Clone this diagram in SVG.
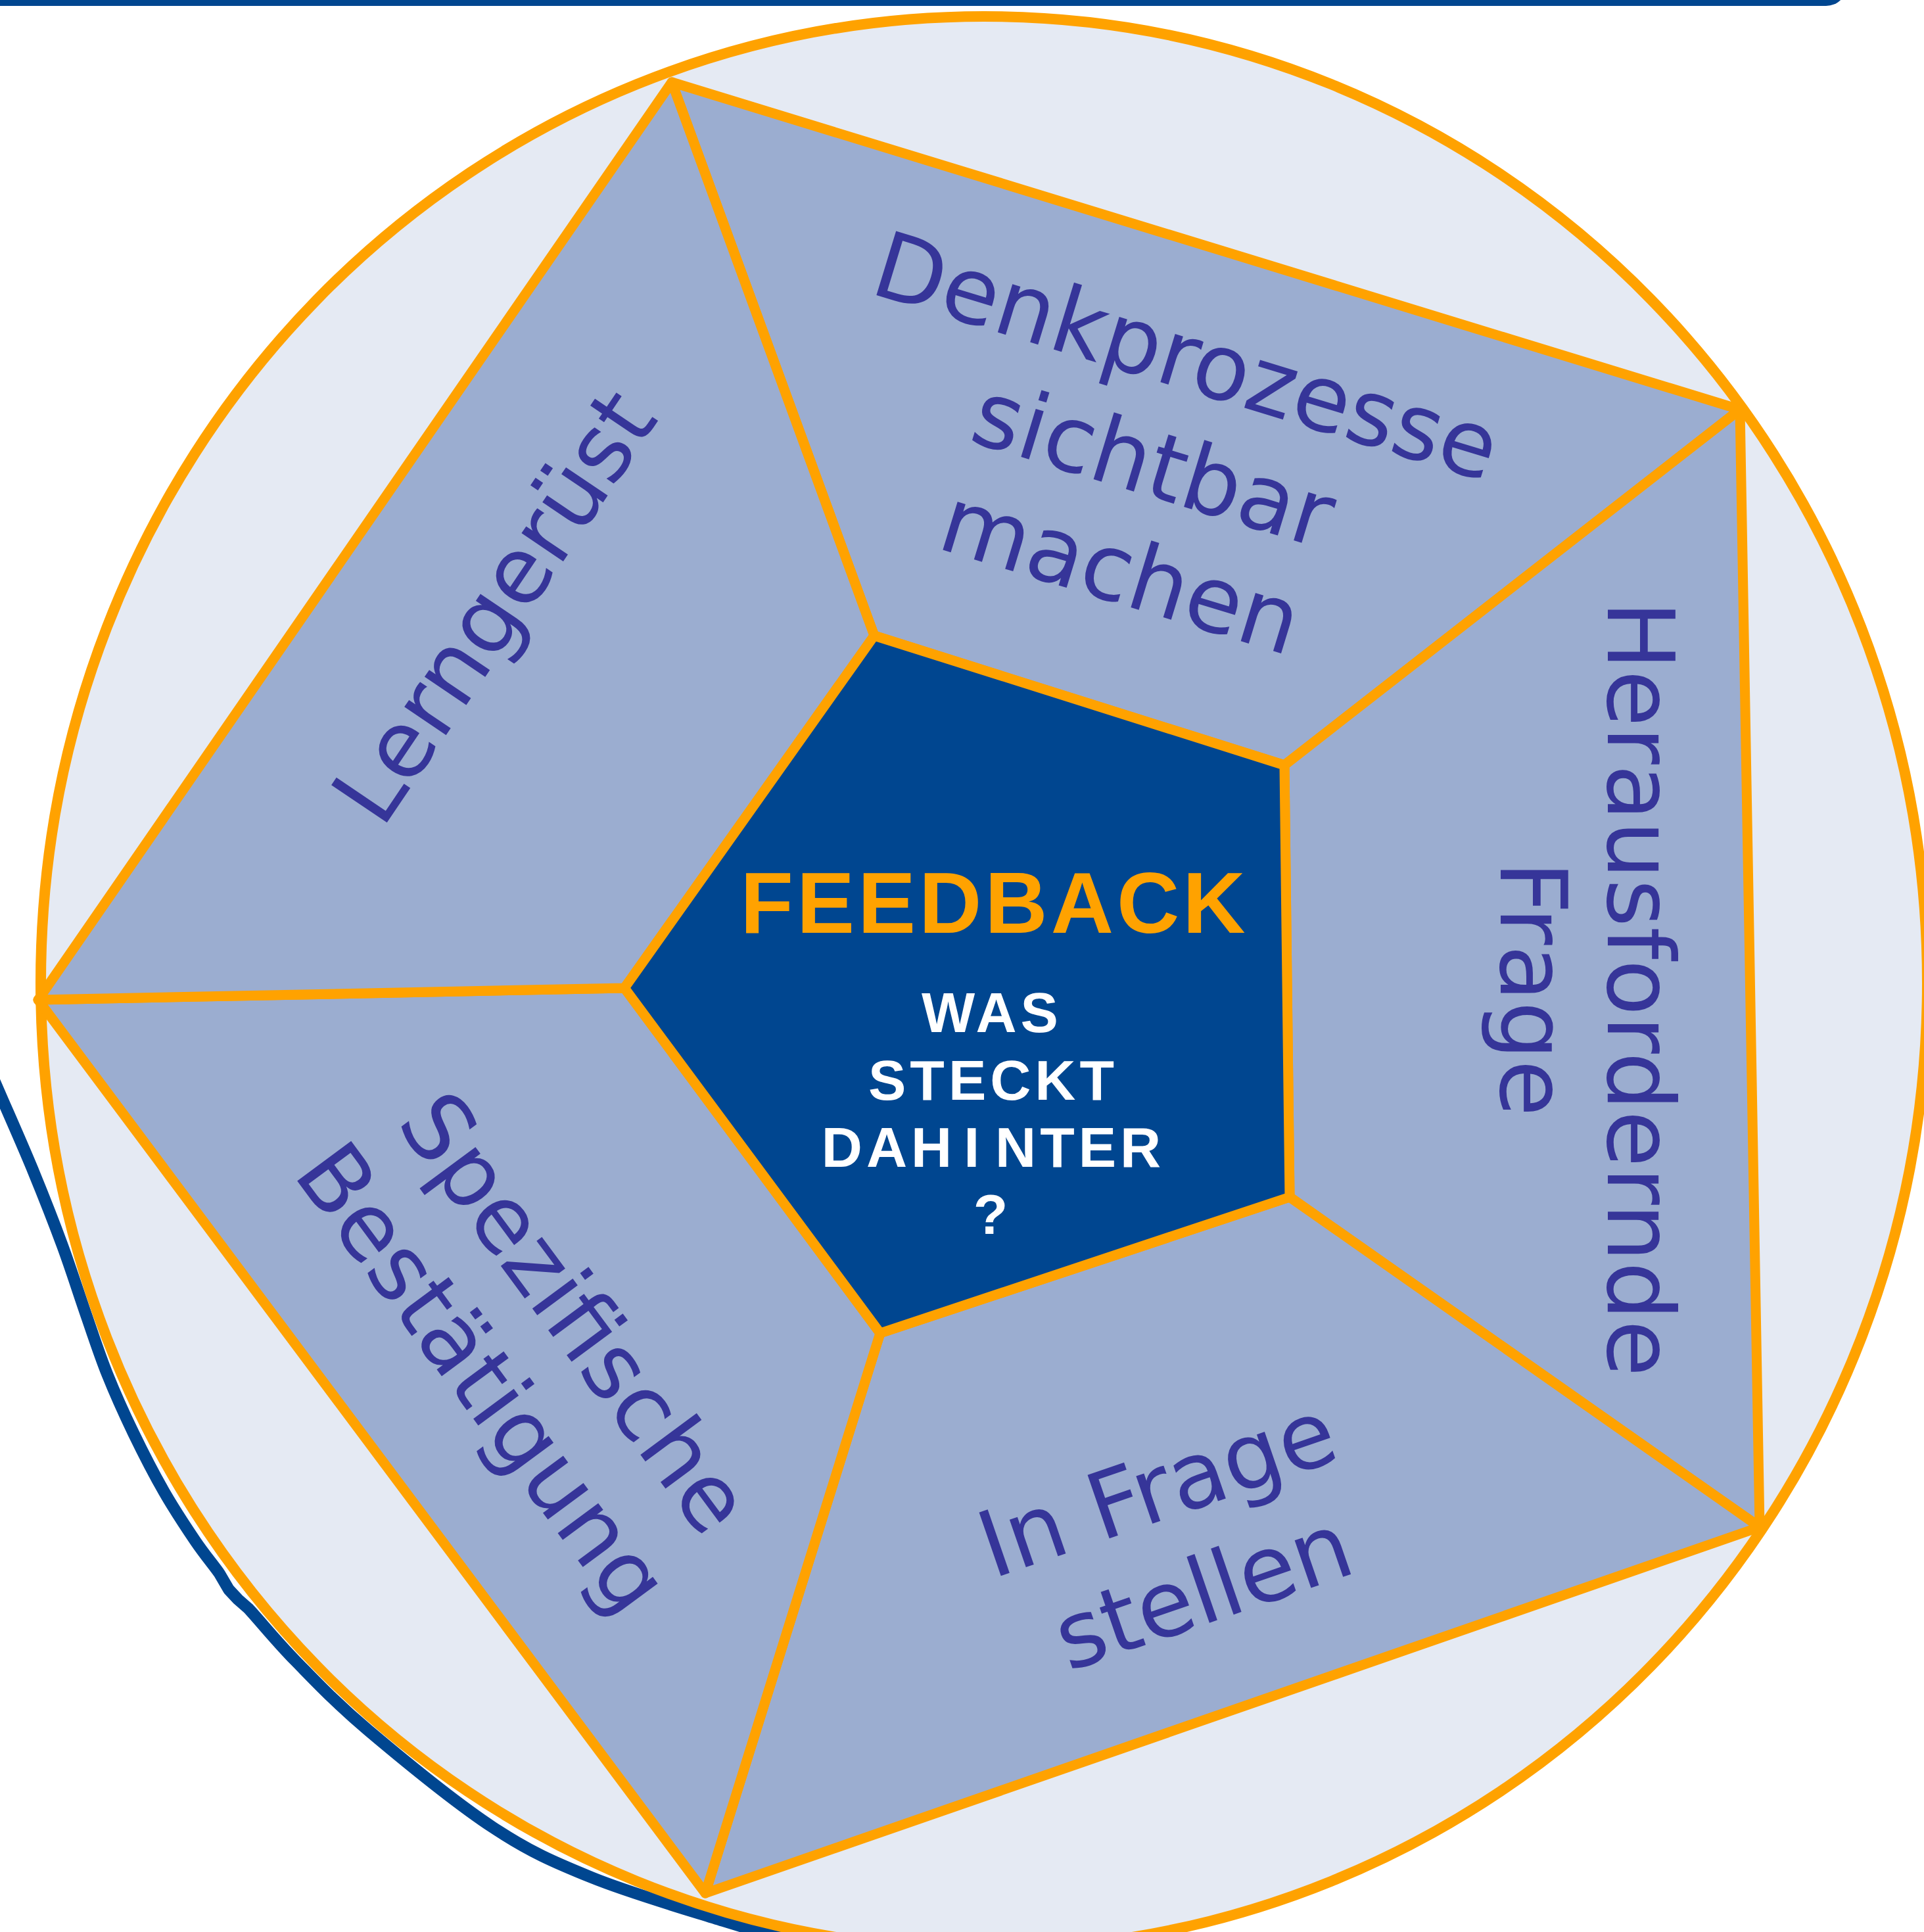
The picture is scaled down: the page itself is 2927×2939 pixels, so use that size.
<svg xmlns="http://www.w3.org/2000/svg" width="2927" height="2939" viewBox="0 0 2927 2939">
<style>
.seg{fill:#9BADD0;stroke:#FFA200;stroke-width:15;stroke-linejoin:round}
.core{fill:#004690;stroke:#FFA200;stroke-width:15;stroke-linejoin:round}
.lbl{font-family:"DejaVu Sans",Verdana,sans-serif;font-size:140px;fill:#363599;text-anchor:middle}
.title{font-family:"Liberation Sans",Arial,sans-serif;font-weight:bold;font-size:132px;fill:#FFA200;text-anchor:middle;letter-spacing:5px}
.sub{font-family:"Liberation Sans",Arial,sans-serif;font-weight:bold;font-size:86px;fill:#FFFFFF;text-anchor:middle;letter-spacing:6px}
</style>
<rect width="2927" height="2939" fill="#FFFFFF"/>
<g id="frame">
<rect x="-40" y="-60" width="2850" height="69" rx="32" fill="#004690"/>
<path d="M -10,1641 L 0,1664 C 10,1687.2 34.2,1741.5 50,1780 C 65.8,1818.5 81.5,1858.3 95,1895 C 108.5,1931.7 119.7,1967.5 131,2000 C 142.3,2032.5 151,2060 163,2090 C 175,2120 188.5,2150 203,2180 C 217.5,2210 234.3,2242.7 250,2270 C 265.7,2297.3 283,2323.3 297,2344 C 311,2364.7 325.5,2381.7 334,2394 L 348,2418 L 362,2433 L 378,2447 C 395,2465.2 419.7,2496.2 450,2527 C 480.3,2557.8 510,2589.8 560,2632 C 610,2674.2 693.3,2742.7 750,2780 C 806.7,2817.3 841.7,2832.3 900,2856 C 958.3,2879.7 1043.3,2904.3 1100,2922 C 1156.7,2939.7 1216.7,2955.3 1240,2962" fill="none" stroke="#004690" stroke-width="18" stroke-linejoin="round"/>
<ellipse cx="1497" cy="1495" rx="1435" ry="1470" fill="#E5EAF3" stroke="#FFA200" stroke-width="16"/>
</g>
<g id="connectors">
</g>
<g id="node-denkprozesse">
<polygon class="seg" points="1022,125 2647,623 1954,1164 1330,967"/>
<text class="lbl" transform="translate(1791,589) rotate(17)"><tspan x="0" y="0">Denkprozesse</tspan><tspan x="0" y="171">sichtbar</tspan><tspan x="0" y="341">machen</tspan></text>
</g>
<g id="node-herausfordernde">
<polygon class="seg" points="2647,623 2677,2323 1962,1821 1954,1164"/>
<text class="lbl" transform="translate(2446,1504) rotate(90)"><tspan x="0" y="0">Herausfordernde</tspan><tspan x="0" y="163">Frage</tspan></text>
</g>
<g id="node-infrage">
<polygon class="seg" points="2677,2323 1073,2880 1339,2028 1962,1821"/>
<text class="lbl" transform="translate(1776,2310) rotate(-19)"><tspan x="0" y="0">In Frage</tspan><tspan x="15" y="171">stellen</tspan></text>
</g>
<g id="node-spezifische">
<polygon class="seg" points="1073,2880 58,1521 950,1503 1339,2028"/>
<text class="lbl" transform="translate(836,2026) rotate(53.5)"><tspan x="0" y="0">Spezifische</tspan><tspan x="-4" y="172">Bestätigung</tspan></text>
</g>
<g id="node-lerngeruest">
<polygon class="seg" points="58,1521 1022,125 1330,967 950,1503"/>
<text class="lbl" transform="translate(792,950) rotate(-56)">Lerngerüst</text>
</g>
<g id="node-feedback">
<polygon class="core" points="1330,967 1954,1164 1962,1821 1339,2028 950,1503"/>
<text class="title" x="1513" y="1419">FEEDBACK</text>
<text class="sub" x="1509" y="1570">WAS</text>
<text class="sub" x="1511" y="1673">STECKT</text>
<text class="sub" x="1511" y="1775">DAH<tspan dx="12">I</tspan><tspan dx="18">NTER</tspan></text>
<text class="sub" x="1510" y="1877">?</text>
</g>
</svg>
